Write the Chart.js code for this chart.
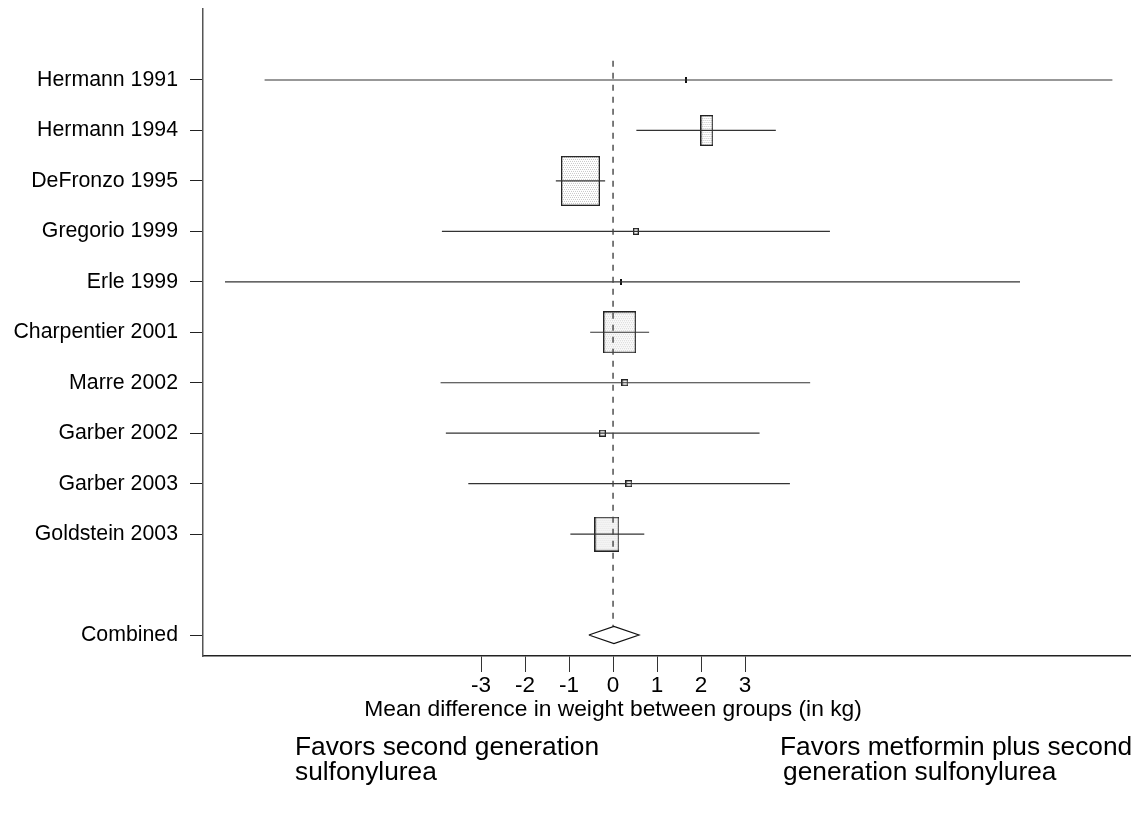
<!DOCTYPE html>
<html>
<head>
<meta charset="utf-8">
<script src="https://cdn.jsdelivr.net/npm/chart.js@4.4.1/dist/chart.umd.min.js"></script>
<style>
  html, body { margin: 0; padding: 0; background: #fff; }
  #wrap { width: 1136px; height: 838px; position: relative; }
</style>
</head>
<body>
<div id="wrap"><canvas id="c" width="1136" height="838"></canvas></div>
<script>
// ---- data ----
const studies = ["Hermann 1991", "Hermann 1994", "DeFronzo 1995", "Gregorio 1999", "Erle 1999",
  "Charpentier 2001", "Marre 2002", "Garber 2002", "Garber 2003", "Goldstein 2003"];
const estimate = [1.66, 2.13, -0.74, 0.52, 0.19, 0.15, 0.27, -0.24, 0.36, -0.14];
const lowerCI  = [-7.92, 0.53, -1.30, -3.89, -8.82, -0.52, -3.92, -3.80, -3.29, -0.97];
const upperCI  = [11.35, 3.70, -0.18, 4.93, 9.25, 0.82, 4.48, 3.33, 4.02, 0.71];
const combinedLabel = "Combined";
const combinedEst = 0.02;
const combinedLower = -0.55;
const combinedUpper = 0.59;
const xTickValues = [-3, -2, -1, 0, 1, 2, 3];
const xTitle = "Mean difference in weight between groups (in kg)";
const leftNote = ["Favors second generation", "sulfonylurea"];
const rightNote = ["Favors metformin plus second", "generation sulfonylurea"];

// ---- styles (marker sizes in px, by study weight) ----
const markerW = [2, 13, 39, 6, 2, 33, 7, 7, 7, 25];
const markerH = [6, 31, 50, 7, 6, 42, 7, 7, 7, 35];
const diamondHalfHeight = 0.17;
const FONT = "'Liberation Sans', Arial, sans-serif";

function makeMarker(w, h) {
  const c = document.createElement('canvas');
  c.width = w; c.height = h;
  const g = c.getContext('2d');
  if (w <= 3) {
    g.fillStyle = '#111';
    g.fillRect(0, 0, w, h);
    return c;
  }
  g.fillStyle = '#ffffff';
  g.fillRect(0, 0, w, h);
  if (w > 10) {
    g.fillStyle = '#c8c8c8';
    for (let yy = 1; yy < h - 1; yy += 2) {
      for (let xx = 1 + ((yy >> 1) % 2); xx < w - 1; xx += 2) {
        g.fillRect(xx, yy, 1, 1);
      }
    }
  }
  g.strokeStyle = '#222';
  g.lineWidth = 1.3;
  g.strokeRect(0.65, 0.65, w - 1.3, h - 1.3);
  return c;
}

const rowOf = i => i + 1;
const combinedRow = studies.length + 2;
const allLabels = {};
studies.forEach((s, i) => { allLabels[rowOf(i)] = s; });
allLabels[combinedRow] = combinedLabel;

const datasets = [];
// CI lines
studies.forEach((s, i) => {
  datasets.push({
    type: 'line',
    data: [{ x: lowerCI[i], y: rowOf(i) }, { x: upperCI[i], y: rowOf(i) }],
    borderColor: '#333',
    borderWidth: 1.2,
    pointRadius: 0,
    fill: false,
    order: 1
  });
});
// boxes
datasets.push({
  type: 'scatter',
  data: studies.map((s, i) => ({ x: estimate[i], y: rowOf(i) })),
  pointStyle: studies.map((s, i) => makeMarker(markerW[i], markerH[i])),
  pointRadius: 3,
  order: 2
});
// combined diamond
datasets.push({
  type: 'line',
  data: [
    { x: combinedLower, y: combinedRow },
    { x: combinedEst, y: combinedRow - diamondHalfHeight },
    { x: combinedUpper, y: combinedRow },
    { x: combinedEst, y: combinedRow + diamondHalfHeight },
    { x: combinedLower, y: combinedRow }
  ],
  borderColor: '#111',
  borderWidth: 1.2,
  fill: false,
  tension: 0,
  pointRadius: 0,
  order: 0
});
// null line
datasets.push({
  type: 'line',
  data: [{ x: 0, y: 0.62 }, { x: 0, y: combinedRow - diamondHalfHeight }],
  borderColor: '#444',
  borderWidth: 1.4,
  borderDash: [6, 6],
  pointRadius: 0,
  fill: false,
  order: 0
});

const notesPlugin = {
  id: 'notes',
  afterDraw(chart) {
    const ctx = chart.ctx;
    ctx.save();
    ctx.fillStyle = '#000';
    ctx.textBaseline = 'middle';
    // axis title, centred on the zero tick
    ctx.font = '22.8px ' + FONT;
    ctx.textAlign = 'center';
    ctx.fillText(xTitle, chart.scales.x.getPixelForValue(0), 710);
    // favour notes
    ctx.font = '26.3px ' + FONT;
    ctx.textAlign = 'left';
    ctx.fillText(leftNote[0], 295, 748);
    ctx.fillText(leftNote[1], 295, 773);
    ctx.fillText(rightNote[0], 780, 748);
    ctx.fillText(rightNote[1], 783, 773);
    ctx.restore();
  }
};

new Chart(document.getElementById('c'), {
  type: 'scatter',
  data: { datasets },
  plugins: [notesPlugin],
  options: {
    responsive: false,
    devicePixelRatio: 1,
    animation: false,
    layout: { padding: { left: 0, top: 9, right: 6, bottom: 115 } },
    plugins: { legend: { display: false }, tooltip: { enabled: false } },
    scales: {
      x: {
        type: 'linear',
        min: -9.32,
        max: 11.75,
        afterBuildTicks: s => { s.ticks = xTickValues.map(v => ({ value: v })); },
        afterFit: s => { s.height = 67; s.paddingLeft = 0; s.paddingRight = 0; },
        ticks: {
          callback: v => String(v),
          color: '#000',
          font: { family: FONT, size: 22.5 },
          padding: 0,
          maxRotation: 0,
          autoSkip: false
        },
        grid: { display: true, drawOnChartArea: false, drawTicks: true, tickLength: 16, color: '#333', lineWidth: 1 },
        border: { display: true, color: '#222', width: 1.5 },
        title: { display: false }
      },
      y: {
        type: 'linear',
        reverse: true,
        min: -0.407,
        max: 12.416,
        afterBuildTicks: s => { s.ticks = Object.keys(allLabels).map(k => ({ value: Number(k) })); },
        afterFit: s => { s.width = 203; s.paddingTop = 0; s.paddingBottom = 0; },
        ticks: {
          callback: v => allLabels[v] || '',
          color: '#000',
          font: { family: FONT, size: 21.3 },
          padding: 12,
          autoSkip: false
        },
        grid: { display: true, drawOnChartArea: false, drawTicks: true, tickLength: 13, color: '#222', lineWidth: 1 },
        border: { display: true, color: '#555', width: 1.5 }
      }
    }
  }
});
</script>
</body>
</html>
